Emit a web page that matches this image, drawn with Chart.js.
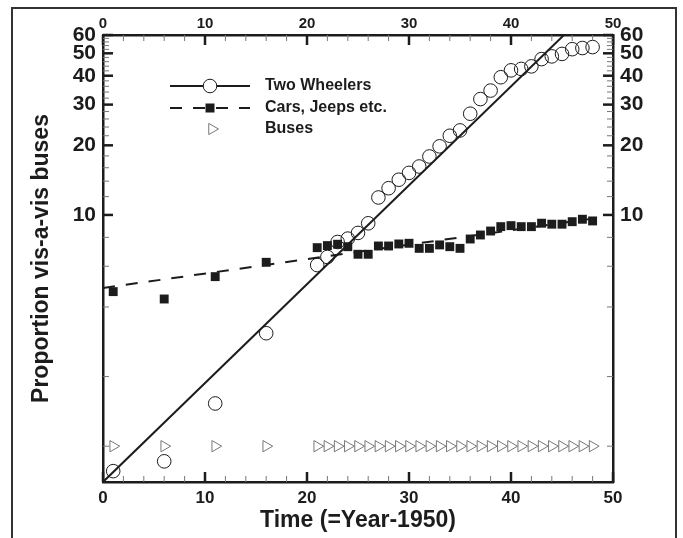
<!DOCTYPE html>
<html><head><meta charset="utf-8">
<script src="https://cdn.jsdelivr.net/npm/chart.js@4/dist/chart.umd.min.js"></script>
<style>html,body{margin:0;padding:0;background:#fff;}canvas{display:block}</style>
</head><body>
<canvas id="c" width="683" height="538"></canvas>
<script>
// ---- data ----
const years = [1,6,11,16,21,22,23,24,25,26,27,28,29,30,31,32,33,34,35,36,37,38,39,40,41,42,43,44,45,46,47,48];
const twoWheelers = [0.78,0.86,1.53,3.08,6.07,6.58,7.64,7.9,8.36,9.2,11.9,13.05,14.2,15.2,16.2,17.9,19.8,22.0,23.2,27.4,31.7,34.5,39.4,42.2,42.8,43.9,47.2,48.5,49.7,52.1,52.7,53.2];
const cars = [4.66,4.33,5.41,6.24,7.22,7.37,7.47,7.29,6.76,6.76,7.34,7.34,7.49,7.54,7.17,7.17,7.42,7.29,7.17,7.87,8.19,8.52,8.90,8.99,8.90,8.90,9.21,9.12,9.12,9.35,9.58,9.42];
const buses = [1,1,1,1,1,1,1,1,1,1,1,1,1,1,1,1,1,1,1,1,1,1,1,1,1,1,1,1,1,1,1,1];
const twoWheelerFitX = [0, 50];
const twoWheelerFitY = [0.7, 96.3];
const carsFitX = [0, 48];
const carsFitY = [4.83, 9.64];
const xTickLabels = [0,10,20,30,40,50];
const yTickLabels = [10,20,30,40,50,60];
const yMinorTicks = [1,2,4,6,8,12,14,16,18,22,24,26,28,32,34,36,38,42,44,46,48,52,54,56,58];
const seriesNames = ['Two Wheelers','Cars, Jeeps etc.','Buses'];
const xTitle = 'Time (=Year-1950)';
const yTitle = 'Proportion vis-a-vis buses';

const FONT = "'Liberation Sans', Arial, sans-serif";
const INK = '#1c1c1c';
const pts = (xs, ys) => xs.map((x, i) => ({x, y: ys[i]}));

function drawMarker(ctx, style, x, y) {
  ctx.save();
  if (style === 'circle') {
    ctx.beginPath(); ctx.arc(x, y, 6.8, 0, Math.PI * 2);
    ctx.fillStyle = '#fff'; ctx.fill();
    ctx.strokeStyle = INK; ctx.lineWidth = 1; ctx.stroke();
  } else if (style === 'rect') {
    ctx.fillStyle = INK; ctx.fillRect(x - 4.5, y - 4.5, 9, 9);
  } else {
    ctx.beginPath(); ctx.moveTo(x + 6.5, y); ctx.lineTo(x - 3.25, y - 5.6); ctx.lineTo(x - 3.25, y + 5.6); ctx.closePath();
    ctx.strokeStyle = '#777'; ctx.lineWidth = 1; ctx.stroke();
  }
  ctx.restore();
}

const decor = {
  id: 'decor',
  beforeDraw(chart) {
    const ctx = chart.ctx;
    ctx.save(); ctx.fillStyle = '#fff'; ctx.fillRect(0, 0, chart.width, chart.height); ctx.restore();
  },
  afterDraw(chart) {
    const ctx = chart.ctx, a = chart.chartArea, sx = chart.scales.x, sy = chart.scales.y;
    ctx.save();
    // outer frame
    ctx.strokeStyle = '#333'; ctx.lineWidth = 2;
    ctx.beginPath(); ctx.moveTo(12, 560); ctx.lineTo(12, 8); ctx.lineTo(676, 8); ctx.lineTo(676, 560); ctx.stroke();
    const seg = (x1, y1, x2, y2, w, c) => { ctx.strokeStyle = c; ctx.lineWidth = w; ctx.beginPath(); ctx.moveTo(x1, y1); ctx.lineTo(x2, y2); ctx.stroke(); };
    // x ticks (inward, bottom and top)
    for (let v = 0; v <= 50; v += 2) {
      const px = sx.getPixelForValue(v);
      const major = v % 10 === 0;
      const L = major ? 10 : 6, w = major ? 2.5 : 1, c = major ? INK : '#777';
      seg(px, a.bottom, px, a.bottom - L, w, c);
      seg(px, a.top, px, a.top + L, w, c);
    }
    // y ticks (inward, left and right)
    yTickLabels.forEach(v => {
      const py = sy.getPixelForValue(v);
      seg(a.left, py, a.left + 10, py, 2.5, INK);
      seg(a.right, py, a.right - 10, py, 2.5, INK);
    });
    yMinorTicks.forEach(v => {
      const py = sy.getPixelForValue(v);
      seg(a.left, py, a.left + 6, py, 1, '#777');
      seg(a.right, py, a.right - 6, py, 1, '#777');
    });
    // legend
    const lx0 = 170, lx1 = 250, mx = 210, tx = 265;
    const rows = [86, 108, 129];
    seg(lx0, rows[0], lx1, rows[0], 2, INK);
    drawMarker(ctx, 'circle', mx, rows[0]);
    ctx.setLineDash([12, 11]);
    seg(lx0, rows[1], lx1, rows[1], 2, INK);
    ctx.setLineDash([]);
    drawMarker(ctx, 'rect', mx, rows[1]);
    drawMarker(ctx, 'triangle', mx + 2, rows[2]);
    ctx.fillStyle = INK; ctx.font = 'bold 16px ' + FONT; ctx.textAlign = 'left'; ctx.textBaseline = 'middle';
    seriesNames.forEach((n, i) => ctx.fillText(n, tx, rows[i]));
    ctx.restore();
  }
};

const tickFontY = {family: FONT, size: 21, weight: 'bold'};
const fixTicks = s => { s.ticks = yTickLabels.map(v => ({value: v})); };

new Chart(document.getElementById('c'), {
  type: 'scatter',
  data: {
    datasets: [
      {label: seriesNames[0], data: pts(years, twoWheelers), pointStyle: 'circle', pointRadius: 6.8,
       borderColor: INK, borderWidth: 1, backgroundColor: 'rgba(0,0,0,0)'},
      {label: 'fit1', data: pts(twoWheelerFitX, twoWheelerFitY), showLine: true, pointRadius: 0,
       borderColor: INK, borderWidth: 2},
      {label: seriesNames[1], data: pts(years, cars), pointStyle: 'rect', pointRadius: 6.3,
       borderColor: INK, borderWidth: 0, backgroundColor: INK},
      {label: 'fit2', data: pts(carsFitX, carsFitY), showLine: true, pointRadius: 0,
       borderColor: INK, borderWidth: 2, borderDash: [12, 11]},
      {label: seriesNames[2], data: pts(years, buses), pointStyle: 'triangle', rotation: 90, pointRadius: 6.5,
       borderColor: '#777', borderWidth: 1, backgroundColor: 'rgba(0,0,0,0)'}
    ]
  },
  options: {
    responsive: false, animation: false, devicePixelRatio: 1,
    layout: {padding: 0},
    plugins: {legend: {display: false}, tooltip: {enabled: false}},
    scales: {
      x: {type: 'linear', position: 'bottom', min: 0, max: 50,
          ticks: {stepSize: 10, color: INK, padding: 6, font: {family: FONT, size: 17, weight: 'bold'}},
          grid: {display: false, drawTicks: false},
          border: {display: true, width: 2.5, color: INK},
          title: {display: true, text: xTitle, color: INK, font: {family: FONT, size: 23, weight: 'bold'}, padding: {top: 0, bottom: 4}},
          afterFit: s => { s.height = 56; }},
      x2: {type: 'linear', position: 'top', min: 0, max: 50,
          ticks: {stepSize: 10, color: INK, padding: 2, font: {family: FONT, size: 15, weight: 'bold'}},
          grid: {display: false, drawTicks: false},
          border: {display: true, width: 2.5, color: INK},
          afterFit: s => { s.height = 35; }},
      y: {type: 'logarithmic', position: 'left', min: 0.7, max: 60,
          afterBuildTicks: fixTicks,
          ticks: {color: INK, padding: 7, font: tickFontY, callback: v => String(v)},
          grid: {display: false, drawTicks: false},
          border: {display: true, width: 2.5, color: INK},
          title: {display: true, text: yTitle, color: INK, font: {family: FONT, size: 23, weight: 'bold'}, padding: {top: 28, bottom: 0}},
          afterFit: s => { s.width = 103; }},
      y2: {type: 'logarithmic', position: 'right', min: 0.7, max: 60,
          afterBuildTicks: fixTicks,
          ticks: {color: INK, padding: 7, font: tickFontY, callback: v => String(v)},
          grid: {display: false, drawTicks: false},
          border: {display: true, width: 2.5, color: INK},
          afterFit: s => { s.width = 70; }}
    }
  },
  plugins: [decor]
});
</script>
</body></html>
